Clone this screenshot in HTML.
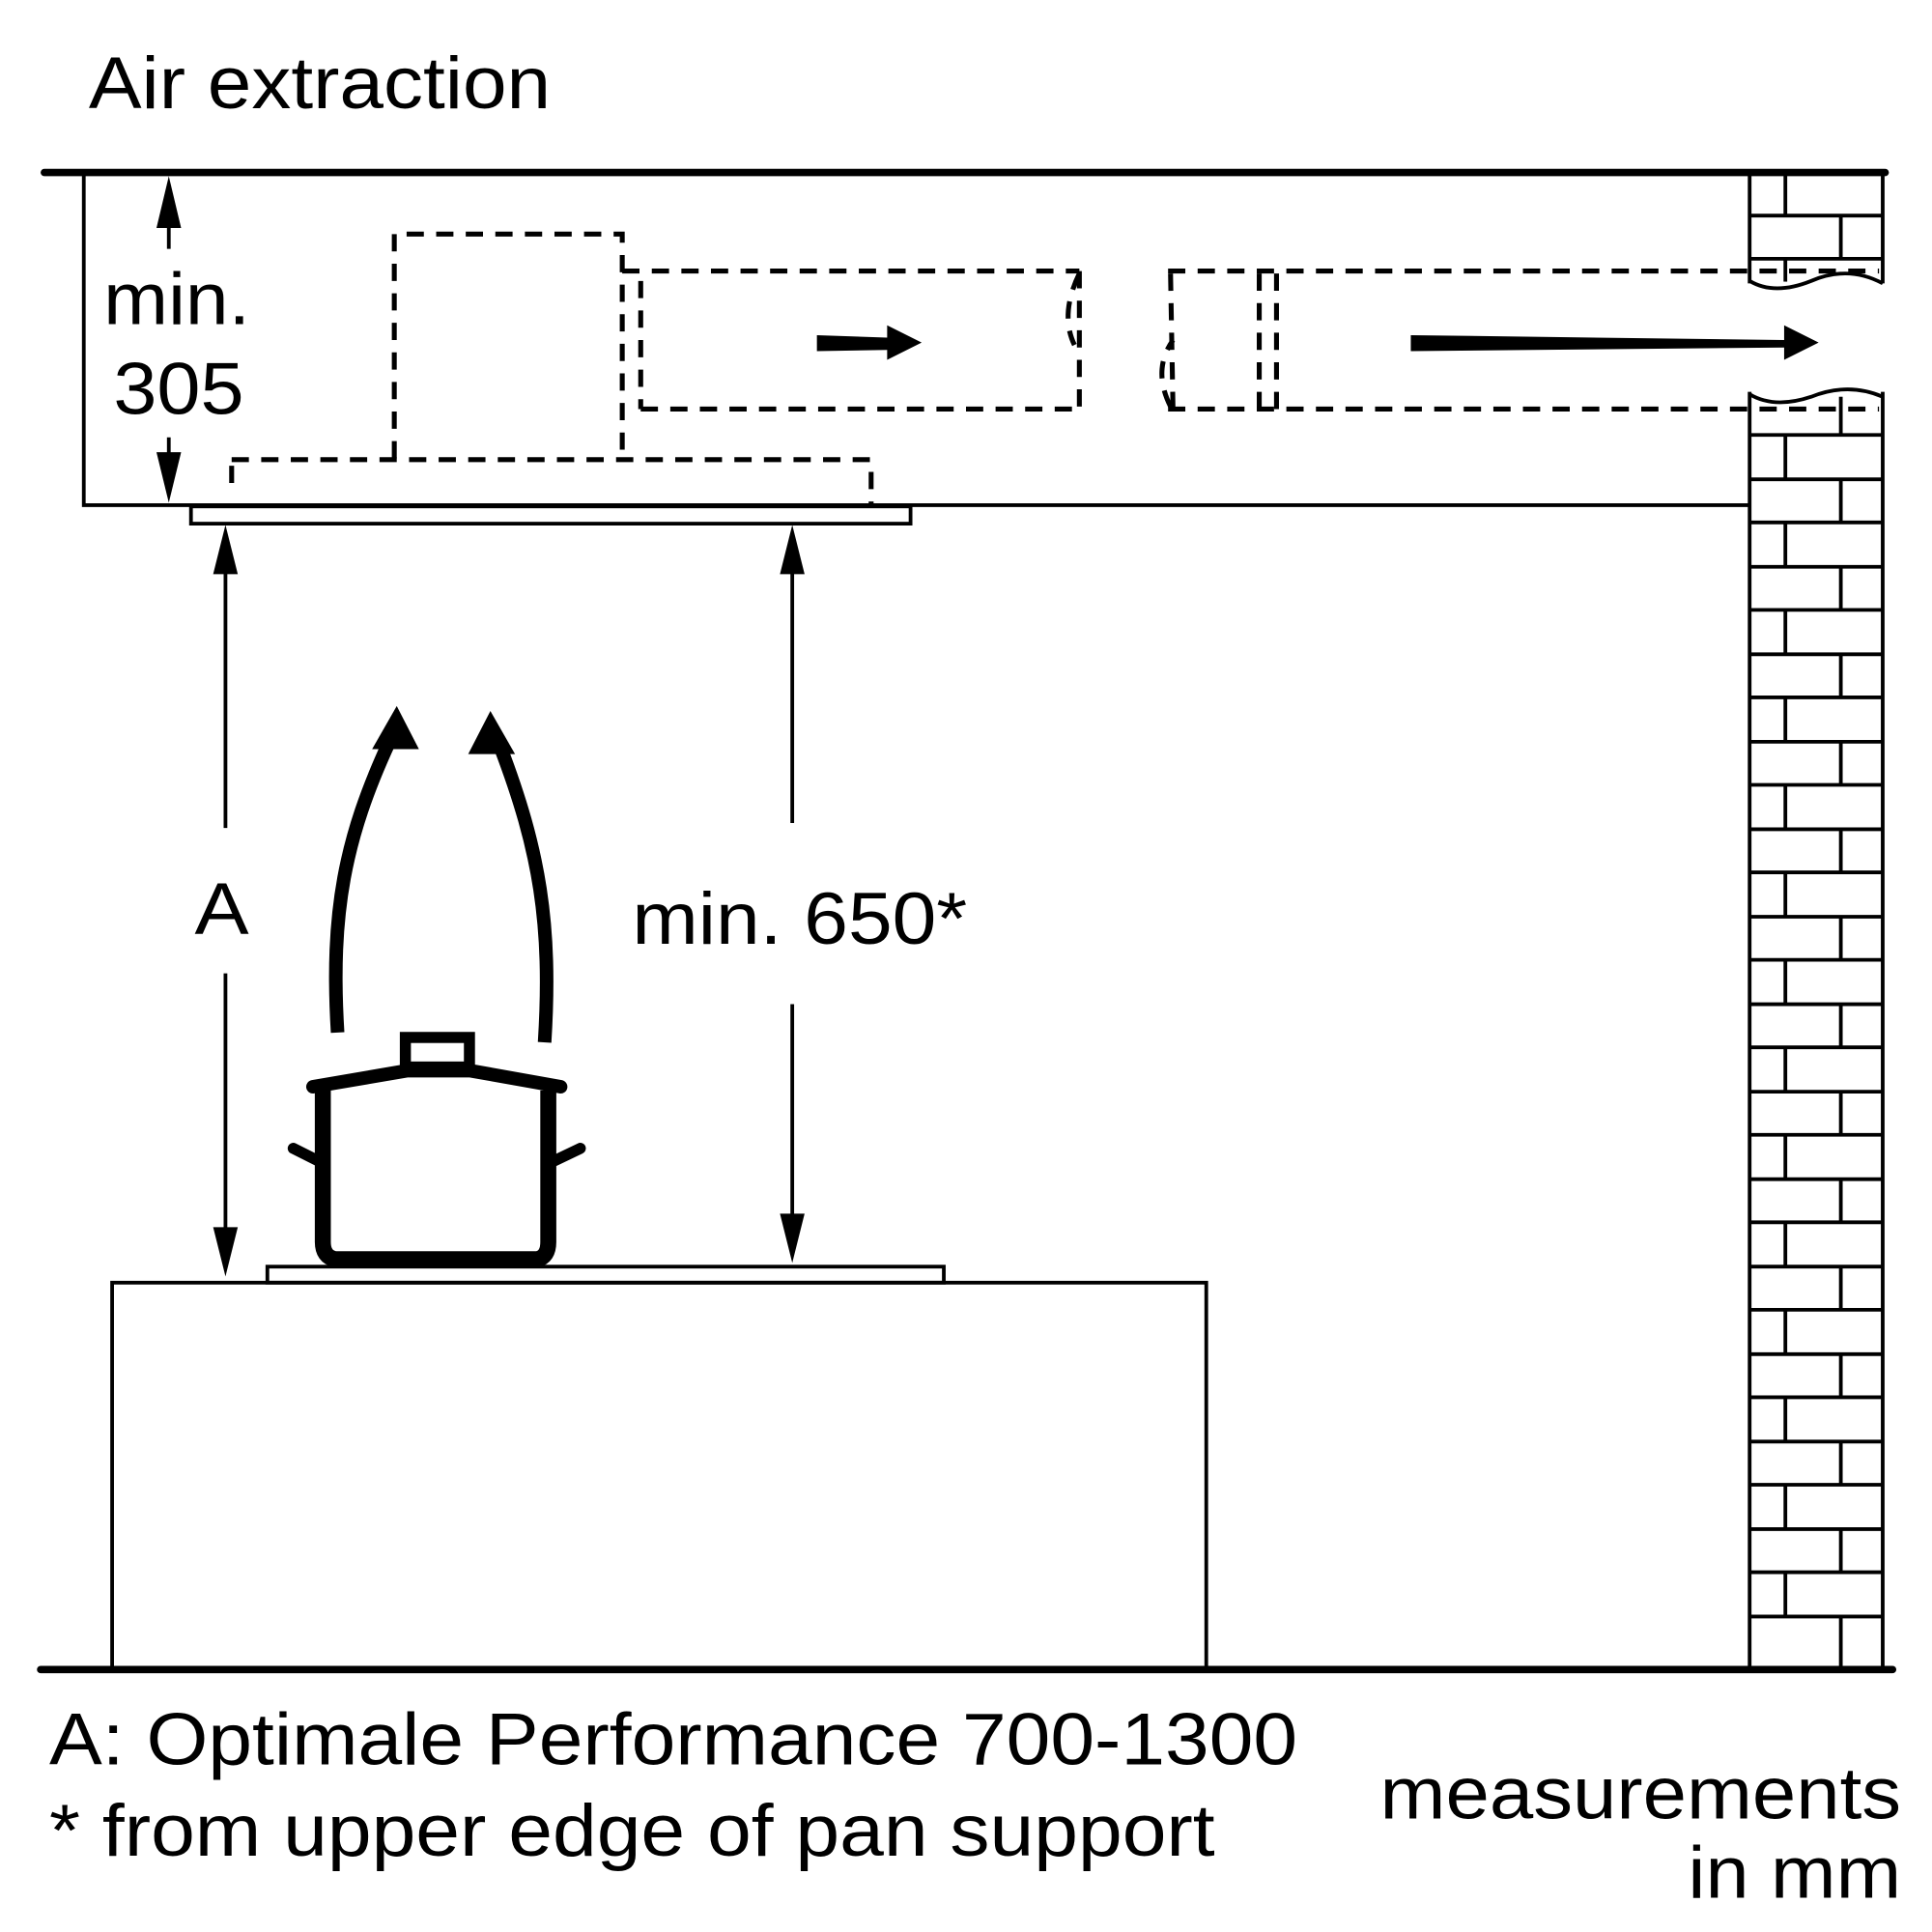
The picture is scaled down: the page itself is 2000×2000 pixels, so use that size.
<!DOCTYPE html>
<html><head><meta charset="utf-8"><style>html,body{margin:0;padding:0;background:#fff}svg{display:block}</style></head>
<body>
<svg width="2000" height="2000" viewBox="0 0 1568 1568" xmlns="http://www.w3.org/2000/svg" font-family="Liberation Sans, Arial, sans-serif">
<rect width="1568" height="1568" fill="#fff"/>
<g stroke="#000" fill="none" stroke-linecap="butt">
<line x1="36" y1="140" x2="1530" y2="140" stroke-width="6" stroke-linecap="round"/>
<line x1="33" y1="1355" x2="1536" y2="1355" stroke-width="6" stroke-linecap="round"/>
<polyline points="68,142 68,410 1420,410" stroke-width="3"/>
<rect x="155" y="411" width="584" height="14" stroke-width="3"/>
<rect x="91" y="1041" width="888" height="314" stroke-width="3"/>
<rect x="217" y="1028" width="549" height="13" stroke-width="3"/>
<g stroke-width="4" stroke-dasharray="14,10">
<polyline points="320,372 320,190 505,190 505,372"/>
<line x1="188" y1="373" x2="707" y2="373"/>
<line x1="188" y1="378" x2="188" y2="400"/>
<line x1="707" y1="383" x2="707" y2="410"/>
<line x1="505" y1="220" x2="876" y2="220"/>
<line x1="520" y1="332" x2="876" y2="332"/>
<line x1="520" y1="228" x2="520" y2="332"/>
<line x1="876" y1="220" x2="876" y2="332"/>
<path d="M876,222 Q860,255 872,280"/>
<line x1="948" y1="220" x2="1525" y2="220"/>
<line x1="948" y1="332" x2="1525" y2="332"/>
<line x1="950" y1="222" x2="952" y2="332"/>
<path d="M950,330 Q935,300 952,276"/>
<line x1="1022" y1="222" x2="1022" y2="332"/>
<line x1="1036" y1="222" x2="1036" y2="332"/>
</g>
<g stroke-width="3">
<line x1="1420" y1="140" x2="1420" y2="230"/>
<line x1="1528" y1="140" x2="1528" y2="230"/>
<line x1="1420" y1="318" x2="1420" y2="1355"/>
<line x1="1528" y1="318" x2="1528" y2="1355"/>
<line x1="1420" y1="175" x2="1528" y2="175"/>
<line x1="1420" y1="210" x2="1528" y2="210"/>
<line x1="1449" y1="140" x2="1449" y2="175"/>
<line x1="1494" y1="175" x2="1494" y2="210"/>
<line x1="1449" y1="210" x2="1449" y2="232"/>
<path d="M1420,228 Q1440,240 1470,228 Q1500,215 1528,230" fill="#fff"/>
<path d="M1420,320 Q1440,332 1470,322 Q1500,310 1528,322" fill="none"/>
<line x1="1494" y1="322" x2="1494" y2="353"/>
</g>
<g stroke-width="3">
<line x1="1420" y1="353" x2="1528" y2="353"/>
<line x1="1449" y1="353" x2="1449" y2="389"/><line x1="1420" y1="389" x2="1528" y2="389"/>
<line x1="1494" y1="389" x2="1494" y2="424"/><line x1="1420" y1="424" x2="1528" y2="424"/>
<line x1="1449" y1="424" x2="1449" y2="460"/><line x1="1420" y1="460" x2="1528" y2="460"/>
<line x1="1494" y1="460" x2="1494" y2="495"/><line x1="1420" y1="495" x2="1528" y2="495"/>
<line x1="1449" y1="495" x2="1449" y2="531"/><line x1="1420" y1="531" x2="1528" y2="531"/>
<line x1="1494" y1="531" x2="1494" y2="566"/><line x1="1420" y1="566" x2="1528" y2="566"/>
<line x1="1449" y1="566" x2="1449" y2="602"/><line x1="1420" y1="602" x2="1528" y2="602"/>
<line x1="1494" y1="602" x2="1494" y2="637"/><line x1="1420" y1="637" x2="1528" y2="637"/>
<line x1="1449" y1="637" x2="1449" y2="673"/><line x1="1420" y1="673" x2="1528" y2="673"/>
<line x1="1494" y1="673" x2="1494" y2="708"/><line x1="1420" y1="708" x2="1528" y2="708"/>
<line x1="1449" y1="708" x2="1449" y2="744"/><line x1="1420" y1="744" x2="1528" y2="744"/>
<line x1="1494" y1="744" x2="1494" y2="779"/><line x1="1420" y1="779" x2="1528" y2="779"/>
<line x1="1449" y1="779" x2="1449" y2="815"/><line x1="1420" y1="815" x2="1528" y2="815"/>
<line x1="1494" y1="815" x2="1494" y2="850"/><line x1="1420" y1="850" x2="1528" y2="850"/>
<line x1="1449" y1="850" x2="1449" y2="886"/><line x1="1420" y1="886" x2="1528" y2="886"/>
<line x1="1494" y1="886" x2="1494" y2="921"/><line x1="1420" y1="921" x2="1528" y2="921"/>
<line x1="1449" y1="921" x2="1449" y2="957"/><line x1="1420" y1="957" x2="1528" y2="957"/>
<line x1="1494" y1="957" x2="1494" y2="992"/><line x1="1420" y1="992" x2="1528" y2="992"/>
<line x1="1449" y1="992" x2="1449" y2="1028"/><line x1="1420" y1="1028" x2="1528" y2="1028"/>
<line x1="1494" y1="1028" x2="1494" y2="1063"/><line x1="1420" y1="1063" x2="1528" y2="1063"/>
<line x1="1449" y1="1063" x2="1449" y2="1099"/><line x1="1420" y1="1099" x2="1528" y2="1099"/>
<line x1="1494" y1="1099" x2="1494" y2="1134"/><line x1="1420" y1="1134" x2="1528" y2="1134"/>
<line x1="1449" y1="1134" x2="1449" y2="1170"/><line x1="1420" y1="1170" x2="1528" y2="1170"/>
<line x1="1494" y1="1170" x2="1494" y2="1205"/><line x1="1420" y1="1205" x2="1528" y2="1205"/>
<line x1="1449" y1="1205" x2="1449" y2="1241"/><line x1="1420" y1="1241" x2="1528" y2="1241"/>
<line x1="1494" y1="1241" x2="1494" y2="1276"/><line x1="1420" y1="1276" x2="1528" y2="1276"/>
<line x1="1449" y1="1276" x2="1449" y2="1312"/><line x1="1420" y1="1312" x2="1528" y2="1312"/>
<line x1="1494" y1="1312" x2="1494" y2="1355"/>
</g>
<g stroke-width="3">
<line x1="137" y1="160" x2="137" y2="202"/>
<line x1="137" y1="355" x2="137" y2="390"/>
<line x1="183" y1="450" x2="183" y2="672"/>
<line x1="183" y1="790" x2="183" y2="1010"/>
<line x1="643" y1="450" x2="643" y2="668"/>
<line x1="643" y1="815" x2="643" y2="1000"/>
</g>
<path d="M262,885 L262,1008 Q262,1020 272,1022 L436,1022 Q445,1020 445,1008 L445,885" stroke-width="13" stroke-linejoin="round"/>
<polyline points="254,882 330,869 382,869 455,882" stroke-width="11" stroke-linecap="round" stroke-linejoin="round"/>
<rect x="329" y="842" width="52" height="24" stroke-width="9"/>
<line x1="238" y1="932" x2="262" y2="944" stroke-width="9" stroke-linecap="round"/>
<line x1="446" y1="944" x2="471" y2="932" stroke-width="9" stroke-linecap="round"/>
<path d="M274,838 C268,740 280,680 316,602" stroke-width="11"/>
<path d="M442,846 C448,750 438,690 406,606" stroke-width="11"/>
</g>
<g fill="#000">
<polygon points="322,573 302,608 340,608"/>
<polygon points="398,577 380,612 418,612"/>
<polygon points="663,272 720,274 720,264 748,278 720,292 720,284 663,285"/>
<polygon points="1145,272 1448,276 1448,264 1476,278 1448,292 1448,282 1145,285"/>
<polygon points="137,143 127,185 147,185"/>
<polygon points="137,408 127,367 147,367"/>
<polygon points="183,426 173,466 193,466"/>
<polygon points="183,1036 173,996 193,996"/>
<polygon points="643,426 633,466 653,466"/>
<polygon points="643,1025 633,985 653,985"/>
</g>
<g fill="#000" font-size="60">
<text x="72" y="88" textLength="375" lengthAdjust="spacingAndGlyphs">Air extraction</text>
<text x="84" y="263" textLength="119" lengthAdjust="spacingAndGlyphs">min.</text>
<text x="92" y="336" textLength="106" lengthAdjust="spacingAndGlyphs">305</text>
<text x="158" y="758" textLength="44" lengthAdjust="spacingAndGlyphs">A</text>
<text x="513" y="766" textLength="272" lengthAdjust="spacingAndGlyphs">min. 650*</text>
<text x="40" y="1432" textLength="1013" lengthAdjust="spacingAndGlyphs">A: Optimale Performance 700-1300</text>
<text x="40" y="1506" textLength="946" lengthAdjust="spacingAndGlyphs">* from upper edge of pan support</text>
<text x="1120" y="1476" textLength="423" lengthAdjust="spacingAndGlyphs">measurements</text>
<text x="1370" y="1540" textLength="173" lengthAdjust="spacingAndGlyphs">in mm</text>
</g>
</svg>
</body></html>
